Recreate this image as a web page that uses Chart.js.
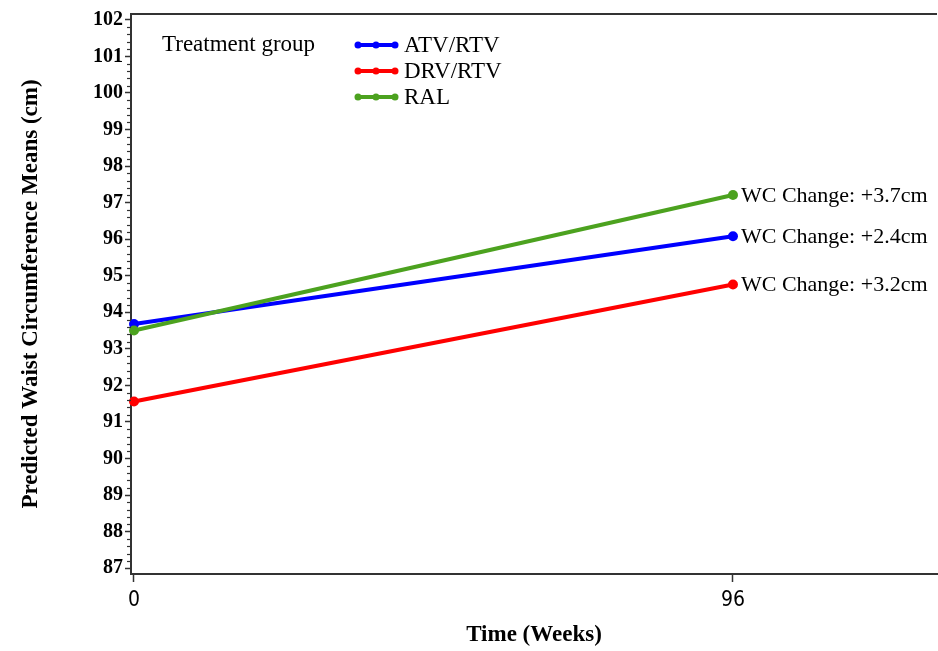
<!DOCTYPE html>
<html>
<head>
<meta charset="utf-8">
<script src="https://cdn.jsdelivr.net/npm/chart.js@4/dist/chart.umd.min.js"></script>
<style>
  body { margin: 0; background: #fff; }
  #wrap { width: 938px; height: 651px; }
</style>
</head>
<body>
<div id="wrap"><canvas id="wc-chart" width="938" height="651"></canvas></div>
<script>
// data
var weeks = [0, 96];
var groupNames = ['ATV/RTV', 'DRV/RTV', 'RAL'];
var atvValues = [93.68, 96.08];
var drvValues = [91.56, 94.76];
var ralValues = [93.50, 97.21];
var changeLabels = ['WC Change: +2.4cm', 'WC Change: +3.2cm', 'WC Change: +3.7cm'];
var xTickValues = [0, 96];
var yTickValues = [87, 88, 89, 90, 91, 92, 93, 94, 95, 96, 97, 98, 99, 100, 101, 102];

var colors = ['#0000ff', '#ff0000', '#4ca21f'];
var serif = "'Liberation Serif', 'Times New Roman', serif";
var narrow = "'Liberation Sans Narrow', 'DejaVu Sans Condensed', sans-serif";

function makeSet(i, values, order) {
    return {
        label: groupNames[i],
        data: weeks.map(function (w, j) { return { x: w, y: values[j] }; }),
        borderColor: colors[i],
        backgroundColor: colors[i],
        borderWidth: 4,
        pointRadius: 5,
        pointHoverRadius: 5,
        pointBorderWidth: 0,
        clip: false,
        order: order
    };
}

// legend on the top left, title beside the items
var legendPlugin = {
    id: 'sideLegend',
    afterDraw: function (chart) {
        var ctx = chart.ctx;
        ctx.save();
        ctx.font = '23px ' + serif;
        ctx.fillStyle = '#000';
        ctx.textBaseline = 'middle';
        ctx.fillText('Treatment group', 162, 45);
        chart.data.datasets.forEach(function (ds, i) {
            var y = 45 + i * 26;
            ctx.strokeStyle = ds.borderColor;
            ctx.fillStyle = ds.borderColor;
            ctx.lineWidth = 4;
            ctx.beginPath();
            ctx.moveTo(357, y);
            ctx.lineTo(396, y);
            ctx.stroke();
            [358, 376, 395].forEach(function (px) {
                ctx.beginPath();
                ctx.arc(px, y, 3.5, 0, Math.PI * 2);
                ctx.fill();
            });
            ctx.fillStyle = '#000';
            ctx.fillText(ds.label, 404, y + 1);
        });
        ctx.restore();
    }
};

// change labels next to the week 96 points
var changePlugin = {
    id: 'changeLabels',
    afterDatasetsDraw: function (chart) {
        var ctx = chart.ctx;
        var xs = chart.scales.x, ys = chart.scales.y;
        ctx.save();
        ctx.font = '22px ' + serif;
        ctx.fillStyle = '#000';
        ctx.textBaseline = 'middle';
        chart.data.datasets.forEach(function (ds, i) {
            var last = ds.data[ds.data.length - 1];
            ctx.fillText(changeLabels[i], xs.getPixelForValue(last.x) + 8, ys.getPixelForValue(last.y) + 1);
        });
        ctx.restore();
    }
};

// minor y ticks and the top frame line
var framePlugin = {
    id: 'frame',
    afterDraw: function (chart) {
        var ctx = chart.ctx;
        var area = chart.chartArea;
        var ys = chart.scales.y;
        ctx.save();
        ctx.strokeStyle = '#333';
        ctx.lineWidth = 2;
        ctx.beginPath();
        ctx.moveTo(area.left - 1, area.top);
        ctx.lineTo(area.right, area.top);
        ctx.stroke();
        ctx.lineWidth = 1.2;
        for (var v = yTickValues[0]; v < yTickValues[yTickValues.length - 1]; v++) {
            for (var k = 1; k < 5; k++) {
                var py = Math.round(ys.getPixelForValue(v + k * 0.2)) + 0.5;
                ctx.beginPath();
                ctx.moveTo(area.left - 4, py);
                ctx.lineTo(area.left, py);
                ctx.stroke();
            }
        }
        ctx.restore();
    }
};

var chart = new Chart(document.getElementById('wc-chart'), {
    type: 'line',
    data: {
        datasets: [
            makeSet(0, atvValues, 1),
            makeSet(1, drvValues, 2),
            makeSet(2, ralValues, 0)
        ]
    },
    options: {
        responsive: false,
        animation: false,
        layout: { autoPadding: false, padding: { top: 13, right: 1, left: 0, bottom: 0 } },
        plugins: {
            legend: { display: false },
            tooltip: { enabled: false }
        },
        scales: {
            x: {
                type: 'linear',
                min: -0.48,
                max: 128.7,
                afterBuildTicks: function (s) {
                    s.ticks = xTickValues.map(function (v) { return { value: v }; });
                },
                afterFit: function (s) { s.height = 77; },
                grid: { drawOnChartArea: false, tickLength: 8, tickColor: '#333', tickWidth: 1.5 },
                border: { color: '#333', width: 2 },
                ticks: {
                    color: '#000',
                    padding: 6,
                    maxRotation: 0,
                    font: { family: narrow, size: 21 }
                },
                title: {
                    display: true,
                    text: 'Time (Weeks)',
                    color: '#000',
                    padding: { top: 2, bottom: 2 },
                    font: { family: serif, size: 23, weight: 'bold' }
                }
            },
            y: {
                min: 86.84,
                max: 102.16,
                afterBuildTicks: function (s) {
                    s.ticks = yTickValues.map(function (v) { return { value: v }; });
                },
                afterFit: function (s) { s.width = 131; },
                grid: { drawOnChartArea: false, tickLength: 6, tickColor: '#333', tickWidth: 1.5 },
                border: { color: '#333', width: 2 },
                ticks: {
                    color: '#000',
                    padding: 2,
                    font: { family: serif, size: 20, weight: 'bold' }
                },
                title: {
                    display: true,
                    text: 'Predicted Waist Circumference Means (cm)',
                    color: '#000',
                    padding: { top: 17, bottom: 0 },
                    font: { family: serif, size: 23, weight: 'bold' }
                }
            }
        }
    },
    plugins: [legendPlugin, changePlugin, framePlugin]
});
</script>
</body>
</html>
